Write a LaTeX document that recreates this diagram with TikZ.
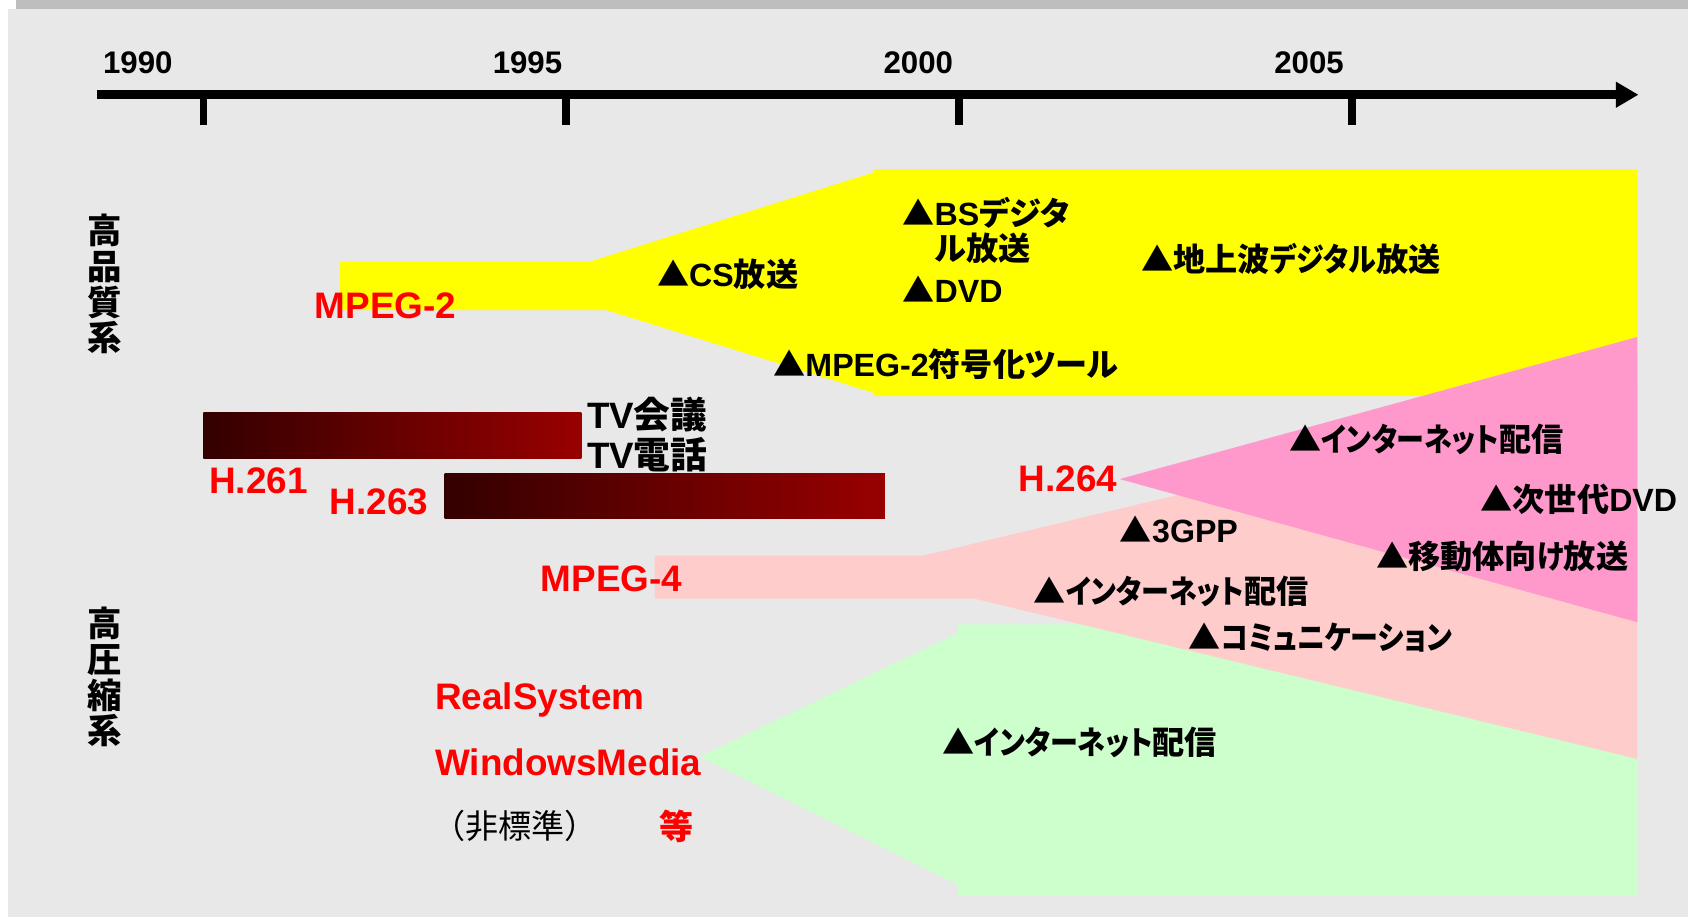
\documentclass[tikz,border=0pt]{standalone}
\usepackage{fontspec}
\usepackage{tikz}
\usetikzlibrary{arrows.meta, positioning}
\setmainfont{Liberation Sans}
\newfontfamily\jpfont{Noto Sans CJK JP}[RawFeature=+palt]
\newfontfamily\kanafont{Noto Sans CJK JP}[RawFeature=+palt, FakeStretch=0.87]
\newfontfamily\jpwide{Noto Sans CJK JP}
\newcommand{\jx}[1]{{\jpfont #1}}
\newcommand{\kx}[1]{{\kanafont #1}}
\definecolor{bggray}{HTML}{E8E8E8}
\definecolor{topgray}{HTML}{BEBEBE}
\definecolor{mpegtwo}{HTML}{FFFF00}
\definecolor{mpegfour}{HTML}{FFCCCC}
\definecolor{hpink}{HTML}{FF99CC}
\definecolor{wmgreen}{HTML}{CCFFCC}
\definecolor{barleft}{HTML}{330000}
\definecolor{barright}{HTML}{990000}
\tikzstyle{codec}=[text=red, font=\fontsize{19.5}{22}\selectfont\bfseries, inner sep=0pt, anchor=west]
\tikzstyle{usage}=[font=\fontsize{17}{18.8}\selectfont\bfseries, inner sep=0pt, anchor=west]
\tikzstyle{year}=[font=\fontsize{16.5}{18}\selectfont\bfseries, inner sep=0pt]
\tikzstyle{family}=[font=\jpfont\fontsize{18.2}{18.8}\selectfont\bfseries, align=center, inner sep=0pt]
\tikzstyle{bar}=[left color=barleft, right color=barright]
\tikzstyle{yeartick}=[line width=4pt]
\tikzstyle{timeline}=[line width=5pt, -{Triangle[length=12pt, width=13pt]}]

\begin{document}
\begin{tikzpicture}[x=0.2mm, y=-0.2mm]
    \useasboundingbox (0,0) rectangle (1568,852);
    \fill[bggray] (7,8) rectangle (1568,852);
    \fill[topgray] (15,0) rectangle (1568,8);

    \fill[mpegtwo] (316,243) -- (548,243) -- (812,160) -- (812,157) -- (1521,157) -- (1521,368)
        -- (812,368) -- (812,365) -- (563,288) -- (316,288) -- cycle;
    \fill[wmgreen] (650,703) -- (890,588) -- (890,580) -- (1521,580) -- (1521,832)
        -- (890,832) -- (890,822) -- cycle;
    \fill[mpegfour] (608,516) -- (858,516) -- (1521,358) -- (1521,705) -- (905,556) -- (608,556) -- cycle;
    \coordinate (apex) at (1040,445);
    \fill[hpink] (apex) -- (1521,313) -- (1521,578) -- cycle;
    \shade[bar] (189,383) rectangle (540,426);
    \shade[bar] (413,440) rectangle (822,482);

    \coordinate (t0) at (90,88);
    \coordinate (t1) at (1522,88);
    \draw[timeline] (t0) -- (t1);
    \draw[yeartick] (189,88) -- (189,116);
    \draw[yeartick] (526,88) -- (526,116);
    \draw[yeartick] (891,88) -- (891,116);
    \draw[yeartick] (1256,88) -- (1256,116);
    \node[year] (y1990) at (128,58) {1990};
    \node[year] (y1995) at (490,58) {1995};
    \node[year] (y2000) at (853,58) {2000};
    \node[year] (y2005) at (1216,58) {2005};

    \node[family] (hq) at (97,264) {高\\品\\質\\系};
    \node[family] (hc) at (97,629) {高\\圧\\縮\\系};

    \node[codec] (mpeg2) at (292,284) {MPEG-2};
    \node[usage] (cs) at (610,255) {\jx{▲}CS\jx{放送}};
    \node[usage, align=left] (bs) at (838,214) {\jx{▲}BS\jx{デジタ}\\\phantom{\jx{▲}}\jx{ル放送}};
    \node[usage] (dvd) at (838,269) {\jx{▲}DVD};
    \node[usage] (terr) at (1060,241) {\jx{▲地上波}\kx{デジタル}\jx{放送}};
    \node[usage] (tool) at (718,338) {\jx{▲}MPEG-2\jx{符号化ツール}};

    \node[usage, font=\fontsize{19.4}{21.5}\selectfont\bfseries] (tvconf) at (545,385) {TV\jx{会議}};
    \node[usage, font=\fontsize{19.4}{21.5}\selectfont\bfseries] (tvtel) at (545,422) {TV\jx{電話}};
    \node[codec] (h261) at (194,447) {H.261};
    \node[codec] (h263) at (306,466) {H.263};

    \node[codec, left=1pt of apex] (h264) {H.264};
    \node[usage] (inet1) at (1197,408) {\jx{▲}\kx{インターネット}\jx{配信}};
    \node[usage] (ngdvd) at (1375,464) {\jx{▲次世代}DVD};
    \node[usage] (mobile) at (1278,517) {\jx{▲移動体向}\kx{け}\jx{放送}};

    \node[codec] (mpeg4) at (502,538) {MPEG-4};
    \node[usage] (gpp) at (1040,492) {\jx{▲}3GPP};
    \node[usage] (inet2) at (960,549) {\jx{▲}\kx{インターネット}\jx{配信}};
    \node[usage] (comm) at (1104,592) {\jx{▲}\kx{コミュニケーション}};

    \node[codec] (real) at (404,650) {RealSystem};
    \node[codec] (wmv) at (404,708) {WindowsMedia};
    \node[usage, font=\jpwide\fontsize{17.5}{19}\selectfont] (nonstd) at (401,767) {（非標準）};
    \node[codec, font=\jpfont\fontsize{18}{20}\selectfont\bfseries] (etc) at (612,768) {等};
    \node[usage] (inet3) at (875,690) {\jx{▲}\kx{インターネット}\jx{配信}};
\end{tikzpicture}
\end{document}
